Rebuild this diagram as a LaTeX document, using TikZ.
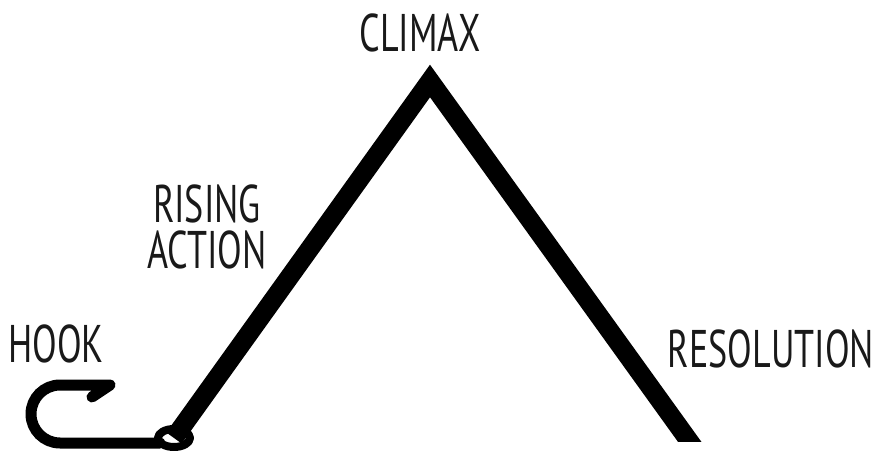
\documentclass[tikz,border=0pt]{standalone}
\usepackage{fontspec}
\newfontfamily\handfont[FakeStretch=0.68]{PT Sans}
\begin{document}
\begin{tikzpicture}[x=1pt,y=-1pt,line join=round,line cap=round,
	stagename/.style={font=\handfont\fontsize{53}{46}\selectfont,inner sep=0pt,anchor=base,align=center,text=black!90},
	spine/.style={line width=19pt,line join=miter,line cap=butt},
	hookline/.style={line width=11pt}]
	\useasboundingbox (0,0) rectangle (878,457);
	\coordinate (knot) at (174,438);
	\coordinate (peak) at (430,81);
	\coordinate (foot) at (697,452);
	\coordinate (barb) at (92,397);
	\coordinate (bend) at (110,385);
	\coordinate (shank) at (160,443);
	\draw[hookline] (barb) -- (bend) -- (60,385) arc[start angle=270,end angle=90,radius=29] -- (shank);
	\begin{scope}
		\clip (0,0) rectangle (878,441);
		\draw[spine] (knot) -- (peak) -- (foot);
	\end{scope}
	\draw[line width=8pt] (knot) ellipse [x radius=16,y radius=9];
	\node[stagename] (climax) at (420,52) {CLIMAX};
	\node[stagename] (rising) at (207,268) {RISING\\ACTION};
	\node[stagename] (hook) at (56,362) {HOOK};
	\node[stagename] (resolution) at (771,367) {RESOLUTION};
\end{tikzpicture}
\end{document}
